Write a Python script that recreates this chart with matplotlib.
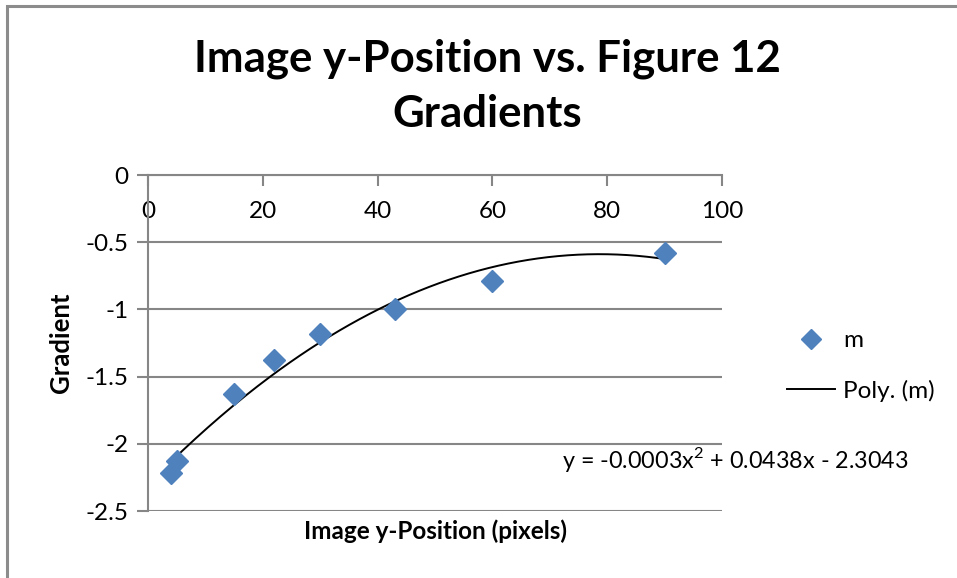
import matplotlib

matplotlib.use("Agg")
import matplotlib.pyplot as plt
import numpy as np
from matplotlib.lines import Line2D
from matplotlib.patches import Rectangle

# image y-position (pixels) and measured gradient m
Y_POS = [4, 5, 15, 22, 30, 43, 60, 90]
GRADIENT = [-2.22, -2.13, -1.63, -1.38, -1.18, -1.00, -0.79, -0.58]

X_TICKS = [0, 20, 40, 60, 80, 100]
Y_TICKS = [0, -0.5, -1, -1.5, -2, -2.5]

TITLE = "Image y-Position vs. Figure 12\nGradients"
EQUATION = "y = -0.0003x$^{2}$ + 0.0438x - 2.3043"

BLUE = "#4F81BD"
GRID = "#868686"

plt.rcParams["font.family"] = ["Lato", "DejaVu Sans"]
plt.rcParams["mathtext.fontset"] = "custom"
plt.rcParams["mathtext.rm"] = "Lato"

fig = plt.figure(figsize=(9.57, 5.78), dpi=100)
ax = fig.add_axes([148 / 957, 1 - 511 / 578, (722 - 148) / 957, (511 - 175) / 578])

# chart border (only left and top edges sit inside the canvas)
fig.add_artist(Rectangle((7 / 957, -0.05), 1.2, 1 - 6 / 578 + 0.05,
                         transform=fig.transFigure, fill=False,
                         edgecolor="#8c8c8c", linewidth=2.2))

x = np.array(Y_POS, dtype=float)
y = np.array(GRADIENT, dtype=float)

# second order polynomial trendline
coef = np.polyfit(x, y, 2)
xs = np.linspace(x.min(), x.max(), 200)
ax.plot(xs, np.polyval(coef, xs), color="black", linewidth=1.4, zorder=2)
ax.plot(x, y, linestyle="none", marker="D", markersize=11.5, color=BLUE,
        markeredgecolor=BLUE, zorder=3, clip_on=False)

ax.set_xlim(0, 100)
ax.set_ylim(-2.5, 0)
ax.set_yticks(Y_TICKS)
ax.set_yticklabels(["0", "-0.5", "-1", "-1.5", "-2", "-2.5"])
ax.set_xticks(X_TICKS)
ax.set_xticklabels([str(t) for t in X_TICKS])

# x axis crosses at y = 0, which is the top edge
ax.xaxis.set_ticks_position("top")
ax.xaxis.set_label_position("bottom")
ax.tick_params(axis="x", direction="in", length=8, width=1.5, color=GRID,
               labeltop=True, labelsize=17.5, pad=-19)
ax.tick_params(axis="y", direction="out", length=8, width=1.5, color=GRID,
               labelsize=17.5, pad=6)
for lab in ax.get_xticklabels():
    lab.set_verticalalignment("top")

ax.grid(axis="y", color=GRID, linewidth=1.5)
ax.set_axisbelow(True)
for side in ("right", "bottom"):
    ax.spines[side].set_visible(False)
for side in ("left", "top"):
    ax.spines[side].set_color(GRID)
    ax.spines[side].set_linewidth(1.5)

ax.set_xlabel("Image y-Position (pixels)", fontsize=17.5, fontweight="bold", labelpad=6)
ax.set_ylabel("Gradient", fontsize=18.5, fontweight="bold", labelpad=9)
fig.text(487 / 957, 1 - 86 / 578, TITLE, ha="center", va="center",
         fontsize=31.5, fontweight="bold", linespacing=1.45)

ax.text(562 / 957, 1 - 460 / 578, EQUATION, transform=fig.transFigure,
        ha="left", va="center", fontsize=16.8)

handles = [
    Line2D([], [], linestyle="none", marker="D", markersize=10, color=BLUE),
    Line2D([], [], color="black", linewidth=1.4),
]
fig.legend(handles, ["m", "Poly. (m)"], loc="center left",
           bbox_to_anchor=(765 / 957, 1 - 366 / 578), frameon=False,
           fontsize=17.5, handlelength=2.0, handletextpad=0.3, labelspacing=1.15)

fig.savefig("out.png", dpi=100)
